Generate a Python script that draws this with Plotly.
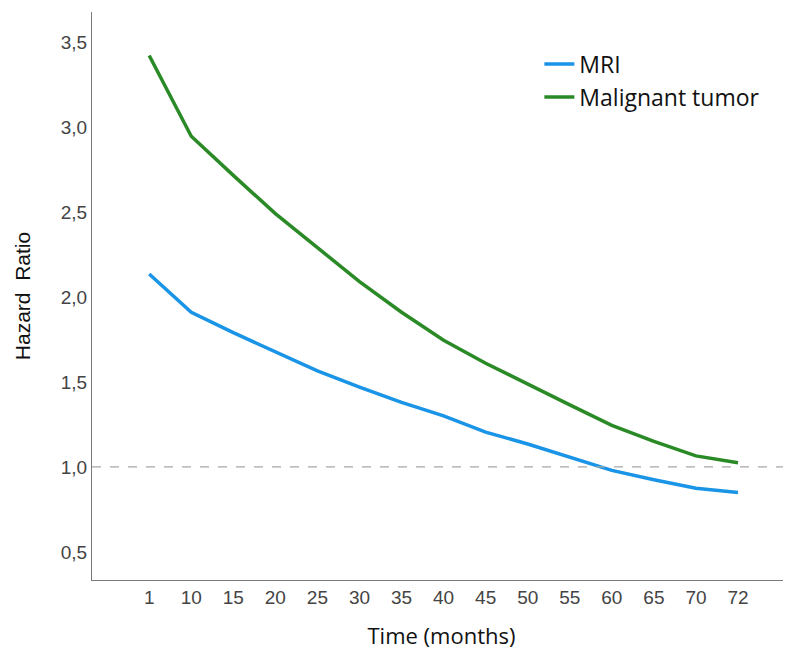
import plotly.graph_objects as go

time_labels = ["1", "10", "15", "20", "25", "30", "35", "40", "45", "50", "55", "60", "65", "70", "72"]
mri_hr = [2.135, 1.91, 1.79, 1.68, 1.565, 1.47, 1.38, 1.30, 1.205, 1.135, 1.06, 0.98, 0.925, 0.875, 0.85]
tumor_hr = [3.42, 2.945, 2.715, 2.49, 2.29, 2.09, 1.91, 1.745, 1.61, 1.485, 1.365, 1.245, 1.15, 1.065, 1.025]
y_ticks = [0.5, 1.0, 1.5, 2.0, 2.5, 3.0, 3.5]
y_tick_text = ["0,5", "1,0", "1,5", "2,0", "2,5", "3,0", "3,5"]

x_idx = list(range(len(time_labels)))

fig = go.Figure()
fig.add_trace(go.Scatter(x=x_idx, y=mri_hr, mode="lines", name="MRI",
                         line=dict(color="#1a94e6", width=3.5)))
fig.add_trace(go.Scatter(x=x_idx, y=tumor_hr, mode="lines", name="Malignant tumor",
                         line=dict(color="#2a8a26", width=3.5)))
fig.add_hline(y=1.0, line=dict(color="#a8a8a8", width=1.2, dash="dash"))

fig.update_layout(
    width=783, height=644,
    margin=dict(l=84, r=0, t=4, b=72),
    plot_bgcolor="white", paper_bgcolor="white",
    showlegend=True,
    legend=dict(x=0.64, y=0.946, xanchor="left", yanchor="top",
                font=dict(family="Open Sans", size=23, color="#111"),
                bgcolor="rgba(0,0,0,0)", tracegroupgap=0, itemwidth=30),
    xaxis=dict(range=[-1.36, 15.26], tickmode="array", tickvals=x_idx, ticktext=time_labels,
               showgrid=False, zeroline=False, showline=True, linecolor="#7a7a7a", linewidth=1.2,
               ticks="", tickfont=dict(family="Liberation Sans", size=19, color="#444"),
               title=dict(text="Time (months)", font=dict(family="Open Sans", size=22, color="#111"), standoff=21)),
    yaxis=dict(range=[0.335, 3.676], tickmode="array", tickvals=y_ticks, ticktext=y_tick_text,
               showgrid=False, zeroline=False, showline=True, linecolor="#7a7a7a", linewidth=1.2,
               ticks="", ticklen=0, tickfont=dict(family="Liberation Sans", size=19, color="#444"),
               title=dict(text="Hazard  Ratio", font=dict(family="Liberation Sans", size=21, color="#111"), standoff=24)),
)

fig.write_html("out.html")
